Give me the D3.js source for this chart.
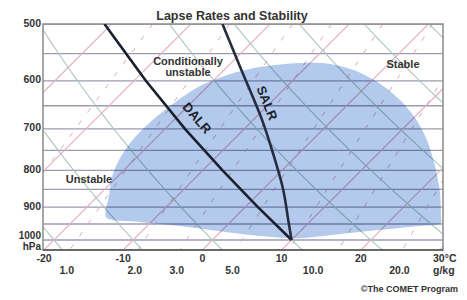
<!DOCTYPE html>
<html>
<head>
<meta charset="utf-8">
<script src="https://cdn.jsdelivr.net/npm/d3@7"></script>
<style>
body { margin: 0; background: #fff; }
text { font-family: "Liberation Sans", Arial, sans-serif; font-weight: bold; fill: #333; }
</style>
</head>
<body>
<div id="chart"></div>
<script>
/* axis values */
var pressureLabels = [500, 600, 700, 800, 900, 1000];
var isobars = [500, 550, 600, 650, 700, 750, 800, 850, 900, 950, 1000];
var tempLabels = [-20, -10, 0, 10, 20, 30];
var mixLabels = ["1.0", "2.0", "3.0", "5.0", "10.0", "20.0"];
var mixValues = [1, 2, 3, 5, 10, 20];

/* background lines */
var isotherms = [-70, -60, -50, -40, -30, -20, -10, 0, 10, 20, 30, 40];
var dryAdiabats = [-20, -10, 0, 10, 20, 30, 40, 50, 60, 70, 80, 90, 100];
var mixLines = [0.4, 1, 2, 3, 5, 8, 12, 20];

/* lapse rate curves (hPa, C) */
var dalrP = [1000, 900, 800, 700, 600, 500];
var dalrT = [10, 1.6, -7.5, -17.5, -28.5, -40.9];
var salrP = [1000, 925, 850, 760, 680, 600, 500];
var salrT = [10, 6.4, 2.65, -3.1, -8.8, -15.9, -26.0];

/* conditionally unstable area (hPa, C) */
var domeP = [932, 866, 812, 769, 726, 680, 642, 610, 587, 574, 567, 567, 580, 606, 638, 676, 726, 786, 852, 923, 950, 956, 968, 981, 994, 987, 972, 956, 944];
var domeT = [-16.1, -18.7, -20.8, -22.0, -22.7, -22.7, -22.1, -21.0, -18.7, -15.8, -11.9, -8.1, -3.5, 1.5, 6.0, 10.2, 14.5, 18.6, 22.4, 25.7, 26.7, 24.4, 19.9, 15.4, 10.8, 5.5, -0.2, -5.9, -11.4];

var plotLeft = 43, plotRight = 443, plotTop = 24, plotBottom = 250;

var y = d3.scaleLog().domain([500, 1000]).range([24, 240]);
var x = d3.scaleLinear().domain([-20, 30]).range([44, 440]);
var pBottom = y.invert(plotBottom);

function skewX(t, p) { return x(t) + (plotBottom - y(p)); }

function dewpoint(w, p) {
  var e = w * p / (622 + w);
  var l = Math.log(e / 6.112);
  return 243.5 * l / (17.67 - l);
}

var samples = d3.range(500, 1030, 10).concat([pBottom]);

var svg = d3.select("#chart")
            .append("svg")
            .attr("width", 467)
            .attr("height", 300);

svg.append("clipPath")
   .attr("id", "plot")
   .append("rect")
   .attr("x", plotLeft).attr("y", plotTop)
   .attr("width", plotRight - plotLeft).attr("height", plotBottom - plotTop);

var grid = svg.append("g").attr("clip-path", "url(#plot)");

var line = d3.line()
             .x(function(d) { return skewX(d[1], d[0]); })
             .y(function(d) { return y(d[0]); });

/* isobars */
function drawIsobars() {
  grid.selectAll(".isobar")
      .data(isobars)
      .enter()
      .append("line")
      .attr("x1", plotLeft).attr("x2", plotRight)
      .attr("y1", function(d) { return y(d); })
      .attr("y2", function(d) { return y(d); })
      .attr("stroke", "#9c9ab4")
      .attr("stroke-width", 1.3);
}

/* isotherms, dry adiabats, mixing ratio */
function drawSkewLines() {
  grid.selectAll(".isotherm")
      .data(isotherms)
      .enter()
      .append("path")
      .attr("d", function(t) { return line([[pBottom, t], [500, t]]); })
      .attr("fill", "none")
      .attr("stroke", "#e6b0bd")
      .attr("stroke-width", 1.1);

  grid.selectAll(".dry")
      .data(dryAdiabats)
      .enter()
      .append("path")
      .attr("d", function(th) {
        return line(samples.map(function(p) {
          return [p, (th + 273.15) * Math.pow(p / 1000, 0.286) - 273.15];
        }));
      })
      .attr("fill", "none")
      .attr("stroke", "#adc6ba")
      .attr("stroke-width", 1.1);

  grid.selectAll(".mix")
      .data(mixLines)
      .enter()
      .append("path")
      .attr("d", function(w) {
        return line(samples.map(function(p) { return [p, dewpoint(w, p)]; }));
      })
      .attr("fill", "none")
      .attr("stroke", "#d8a8b8")
      .attr("stroke-width", 1)
      .attr("stroke-dasharray", "5,10");
}

/* shaded area */
function drawDome() {
  var pts = domeP.map(function(p, i) { return [p, domeT[i]]; });
  var area = d3.line()
               .x(function(d) { return skewX(d[1], d[0]); })
               .y(function(d) { return y(d[0]); })
               .curve(d3.curveCardinalClosed.tension(0.2));
  grid.append("path")
      .attr("d", area(pts))
      .attr("fill", "#b3caec")
      .style("mix-blend-mode", "multiply");
}

/* frame */
function drawFrame() {
  svg.append("rect")
     .attr("x", plotLeft).attr("y", plotTop)
     .attr("width", plotRight - plotLeft).attr("height", plotBottom - plotTop)
     .attr("fill", "none")
     .attr("stroke", "#8a8a8a")
     .attr("stroke-width", 1.5);
  svg.append("line")
     .attr("x1", plotLeft).attr("x2", plotRight)
     .attr("y1", plotBottom).attr("y2", plotBottom)
     .attr("stroke", "#555")
     .attr("stroke-width", 1.6);
}

/* DALR and SALR */
function drawCurves() {
  svg.append("path")
     .attr("d", line(dalrP.map(function(p, i) { return [p, dalrT[i]]; })))
     .attr("fill", "none")
     .attr("stroke", "#1c1f2c")
     .attr("stroke-width", 2.6)
     .attr("clip-path", "url(#plot)");
  svg.append("path")
     .attr("d", d3.line()
                  .x(function(d) { return skewX(d[1], d[0]); })
                  .y(function(d) { return y(d[0]); })
                  .curve(d3.curveBasis)(salrP.map(function(p, i) { return [p, salrT[i]]; })))
     .attr("fill", "none")
     .attr("stroke", "#262c3e")
     .attr("stroke-width", 2.6)
     .attr("clip-path", "url(#plot)");
}

/* texts */
function drawText() {
  svg.append("text")
     .attr("x", 232).attr("y", 20)
     .attr("text-anchor", "middle")
     .style("font-size", "12.5px")
     .text("Lapse Rates and Stability");

  svg.selectAll(".plab")
     .data(pressureLabels)
     .enter()
     .append("text")
     .attr("x", 41)
     .attr("y", function(d) { return d == 1000 ? y(d) - 1 : y(d) + 2.5; })
     .attr("text-anchor", "end")
     .style("font-size", function(d) { return d == 1000 ? "10px" : "10.5px"; })
     .text(function(d) { return d; });

  svg.append("text")
     .attr("x", 41).attr("y", 249.5)
     .attr("text-anchor", "end")
     .style("font-size", "10px")
     .text("hPa");

  svg.selectAll(".tlab")
     .data(tempLabels)
     .enter()
     .append("text")
     .attr("x", function(d) { return d == 30 ? x(d) - 7 : x(d); })
     .attr("y", 262)
     .attr("text-anchor", function(d) { return d == 30 ? "start" : "middle"; })
     .style("font-size", "10.5px")
     .text(function(d) { return d == 30 ? "30°C" : d; });

  svg.selectAll(".mlab")
     .data(mixValues)
     .enter()
     .append("text")
     .attr("x", function(d) { return skewX(dewpoint(d, pBottom), pBottom) - 3; })
     .attr("y", 274)
     .attr("text-anchor", "middle")
     .style("font-size", "10.5px")
     .text(function(d, i) { return mixLabels[i]; });

  svg.append("text")
     .attr("x", x(30) - 7).attr("y", 274)
     .style("font-size", "10.5px")
     .text("g/kg");

  svg.append("text")
     .attr("x", 458).attr("y", 292)
     .attr("text-anchor", "end")
     .style("font-size", "9px")
     .text("©The COMET Program");

  svg.append("text")
     .attr("x", 188).attr("y", 65)
     .attr("text-anchor", "middle")
     .style("font-size", "11px")
     .text("Conditionally");
  svg.append("text")
     .attr("x", 188).attr("y", 76)
     .attr("text-anchor", "middle")
     .style("font-size", "11px")
     .text("unstable");

  svg.append("text")
     .attr("x", 403).attr("y", 68)
     .attr("text-anchor", "middle")
     .style("font-size", "11px")
     .text("Stable");

  svg.append("text")
     .attr("x", 89).attr("y", 183)
     .attr("text-anchor", "middle")
     .style("font-size", "11px")
     .text("Unstable");

  svg.append("text")
     .attr("transform", "translate(197,118) rotate(49)")
     .attr("text-anchor", "middle")
     .attr("dy", "0.35em")
     .style("font-size", "13px")
     .style("fill", "#1c1f2c")
     .text("DALR");

  svg.append("text")
     .attr("transform", "translate(267,103) rotate(68)")
     .attr("text-anchor", "middle")
     .attr("dy", "0.35em")
     .style("font-size", "13px")
     .style("fill", "#1c1f2c")
     .text("SALR");
}

/* start */
drawIsobars();
drawSkewLines();
drawDome();
drawFrame();
drawCurves();
drawText();
</script>
</body>
</html>
